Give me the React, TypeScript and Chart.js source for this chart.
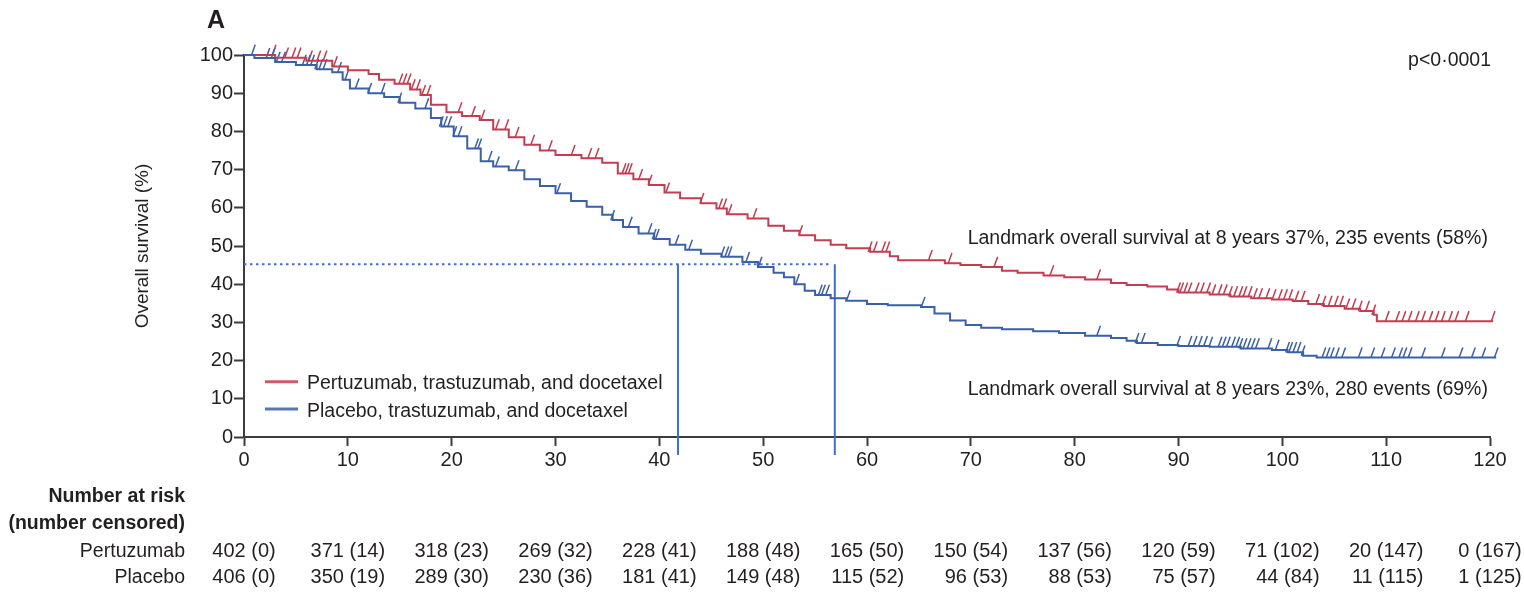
import React, { useEffect, useRef } from 'react';
import { Chart, registerables } from 'chart.js';

Chart.register(...registerables);

// ---------- data ----------
const xTicks = [0, 10, 20, 30, 40, 50, 60, 70, 80, 90, 100, 110, 120];
const yTicks = [0, 10, 20, 30, 40, 50, 60, 70, 80, 90, 100];

const seriesLabels = [
  'Pertuzumab, trastuzumab, and docetaxel',
  'Placebo, trastuzumab, and docetaxel',
];

// Kaplan-Meier step points (months, % surviving)
const pertuzumabTimes = [0, 3, 6, 8.5, 10, 12, 13, 14.5, 16, 17, 18, 19.5, 21, 22.7, 24, 25.5, 27, 28.5, 30, 32.5, 34.5, 36, 37.5, 39, 40.5, 42, 44, 45.5, 46.5, 48.5, 50.5, 52, 53.5, 55, 56.5, 58, 60.3, 62.2, 63, 67.5, 69, 71, 73, 74.5, 77, 79, 81, 83.5, 85, 87, 88.9, 90, 93, 95, 97, 99, 101, 102.5, 104, 106, 107.5, 108.8, 109.1, 120.3];
const pertuzumabSurv = [100, 99.3, 98.5, 97, 96, 95, 93.5, 92.5, 91, 89.5, 87, 85, 84, 83, 80.5, 78.5, 76.5, 75, 73.8, 73, 71.8, 69, 67.5, 66, 64, 62.5, 61.2, 59.8, 58.3, 57.2, 55.3, 54, 52.8, 51.5, 50.3, 49.4, 48.5, 47.3, 46.3, 45.5, 45, 44.5, 43.5, 43, 42.3, 41.8, 41.2, 40.3, 39.8, 39.4, 38.6, 37.8, 37.3, 36.8, 36.3, 36, 35.6, 34.8, 34.3, 33.6, 33, 32, 30.3, 30.3];

const placeboTimes = [0, 1, 3, 5, 7, 8.5, 9.5, 10.2, 12, 13.5, 15, 16.5, 18, 19, 20.2, 21.5, 22.8, 24, 25.5, 27, 28.5, 30, 31.5, 33, 34.5, 35.5, 36.5, 38, 39.5, 41, 42.5, 44, 46, 48, 49.5, 51, 52, 53, 54, 55, 56.5, 58, 60, 62, 65.2, 66.5, 68, 69.5, 71, 73, 76, 78.5, 81, 83.5, 85, 86, 88, 90, 93, 96, 99, 100.5, 102, 103.3, 120.6];
const placeboSurv = [100, 99.2, 98.2, 97.4, 96.3, 95.5, 93.5, 91.2, 90, 89, 87.5, 86, 83.5, 81.3, 78.7, 75.5, 72.2, 70.8, 69.8, 67.5, 65.7, 63.8, 61.8, 60.3, 58.2, 56.8, 55, 53.3, 51.8, 50.3, 49, 48, 47.2, 45.8, 44.5, 43, 41.8, 40, 38.3, 37.2, 36.3, 35.7, 34.8, 34.5, 34, 32.3, 30.5, 29.3, 28.6, 28.2, 27.7, 27.2, 26.5, 25.9, 25.2, 24.6, 24.1, 23.8, 23.6, 23.2, 22.8, 22.2, 21.3, 20.8, 20.8];

// censoring times (months)
const pertuzumabCensored = [2.9, 4.1, 4.8, 5.3, 6.4, 7.2, 7.8, 8.8, 15.1, 15.5, 15.9, 16.3, 16.8, 17.3, 17.8, 20.8, 22.1, 23, 24.4, 25.3, 26.3, 27.8, 29.5, 31.7, 33.3, 34, 36.6, 36.9, 37.2, 38.2, 39.1, 40.8, 44.1, 45.9, 46.3, 46.8, 49.2, 53.6, 60.3, 60.8, 61.6, 62, 66.1, 68, 72.4, 77.8, 82.3, 90, 90.3, 90.7, 91.1, 91.8, 92.3, 92.9, 93.4, 94, 94.5, 95, 95.5, 96, 96.4, 96.9, 97.4, 97.9, 98.6, 99.2, 99.8, 100.3, 100.8, 101.4, 102, 103.4, 104, 104.6, 105.2, 105.7, 106.3, 106.9, 107.5, 108.2, 108.8, 110.1, 111.1, 111.7, 112.3, 113, 113.6, 114.3, 114.9, 115.5, 116.2, 116.8, 117.8, 120.3];
const placeboCensored = [0.9, 2.3, 2.8, 3.3, 3.8, 5.8, 6.2, 6.6, 7.0, 7.4, 7.8, 9.2, 9.9, 10.9, 12.1, 13.4, 15, 17.6, 19, 19.4, 19.8, 20.3, 20.8, 22.4, 22.7, 23.7, 24.4, 26.3, 30.3, 35.5, 37.2, 39.1, 39.5, 39.8, 41.7, 43, 46.1, 46.5, 46.8, 48.5, 49.7, 53.3, 55.5, 55.8, 56.2, 58.2, 65.4, 82.3, 86, 86.6, 90, 91.1, 91.6, 92.1, 92.6, 93.1, 94, 94.4, 94.8, 95.3, 95.7, 96, 96.4, 96.8, 97.2, 97.6, 98.8, 99.5, 100.5, 100.8, 101.2, 101.6, 102, 104, 104.4, 104.8, 105.3, 105.9, 107.5, 108.7, 109.7, 110.7, 111.4, 111.8, 112.3, 113.6, 115.5, 117.2, 118.4, 119.4, 120.6];

// median reference lines
const medianTimes = [41.8, 56.9];
const medianLevel = 45.2;
const medianLineEnd = 56.6;
const medianLineBottom = -4.7;

const riskRowLabels = ['Pertuzumab', 'Placebo'];
const riskPertuzumab = ['402 (0)', '371 (14)', '318 (23)', '269 (32)', '228 (41)', '188 (48)', '165 (50)', '150 (54)', '137 (56)', '120 (59)', '71 (102)', '20 (147)', '0 (167)'];
const riskPlacebo = ['406 (0)', '350 (19)', '289 (30)', '230 (36)', '181 (41)', '149 (48)', '115 (52)', '96 (53)', '88 (53)', '75 (57)', '44 (84)', '11 (115)', '1 (125)'];

const landmarkTexts = [
  'Landmark overall survival at 8 years 37%, 235 events (58%)',
  'Landmark overall survival at 8 years 23%, 280 events (69%)',
];
const pValueText = 'p<0\u00B70001';
const panelLetter = 'A';

// ---------- styles ----------
const FONT = "'Liberation Sans', Arial, sans-serif";
const RED = '#c43c50';
const BLUE = '#3a60a8';
const REF_BLUE = '#3c6fd6';
const TEXT = '#231f20';
const AXIS = '#3c3c3c';

function survivalAt(times: number[], surv: number[], t: number) {
  let v = surv[0];
  for (let i = 0; i < times.length; i++) {
    if (times[i] <= t) v = surv[i];
  }
  return v;
}

const CENSOR_LIFT = 1.3;

const kmTextPlugin = {
  id: 'kmText',
  afterDraw(chart: any) {
    const { ctx } = chart;
    const xs = chart.scales.x;
    const ys = chart.scales.y;
    ctx.save();
    ctx.fillStyle = TEXT;
    ctx.textBaseline = 'alphabetic';

    ctx.font = `bold 25px ${FONT}`;
    ctx.textAlign = 'left';
    ctx.fillText(panelLetter, 207, 28);

    ctx.font = `19.5px ${FONT}`;
    ctx.textAlign = 'right';
    ctx.fillText(pValueText, xs.getPixelForValue(120.1), ys.getPixelForValue(97.0));
    ctx.fillText(landmarkTexts[0], xs.getPixelForValue(119.8), ys.getPixelForValue(50.4));
    ctx.fillText(landmarkTexts[1], xs.getPixelForValue(119.8), ys.getPixelForValue(11.0));

    // legend
    const legendColors = [RED, BLUE];
    const legendY = [381.7, 409];
    seriesLabels.forEach((lab, i) => {
      ctx.strokeStyle = legendColors[i];
      ctx.globalAlpha = 0.85;
      ctx.lineWidth = 3;
      ctx.beginPath();
      ctx.moveTo(265, legendY[i]);
      ctx.lineTo(298, legendY[i]);
      ctx.stroke();
      ctx.globalAlpha = 1;
      ctx.textAlign = 'left';
      ctx.fillText(lab, 307, legendY[i] + 7.5);
    });

    // number at risk table
    ctx.textAlign = 'right';
    ctx.font = `bold 19.5px ${FONT}`;
    ctx.fillText('Number at risk', 185, 502);
    ctx.fillText('(number censored)', 185, 529);
    ctx.font = `19.5px ${FONT}`;
    ctx.fillText(riskRowLabels[0], 185, 557);
    ctx.fillText(riskRowLabels[1], 185, 583);
    ctx.font = `20px ${FONT}`;
    xTicks.forEach((t, i) => {
      const px = xs.getPixelForValue(t);
      const w = Math.max(ctx.measureText(riskPertuzumab[i]).width, ctx.measureText(riskPlacebo[i]).width);
      ctx.fillText(riskPertuzumab[i], px + w / 2, 557);
      ctx.fillText(riskPlacebo[i], px + w / 2, 583);
    });
    ctx.restore();
  },
};

export default function App() {
  const canvasRef = useRef<HTMLCanvasElement | null>(null);

  useEffect(() => {
    if (!canvasRef.current) return;
    const toPts = (xs: number[], ys: number[]) => xs.map((x, i) => ({ x, y: ys[i] }));
    const censorPts = (cs: number[], times: number[], surv: number[]) =>
      cs.map((t) => ({ x: t, y: survivalAt(times, surv, t) + CENSOR_LIFT }));

    const censorStyle = {
      showLine: false,
      pointStyle: 'line',
      pointRadius: 5.5,
      pointHoverRadius: 5.5,
      pointRotation: 110,
      pointBorderWidth: 1.5,
      borderWidth: 0,
      clip: false,
    };

    const chart = new Chart(canvasRef.current, {
      type: 'line',
      data: {
        datasets: [
          {
            label: seriesLabels[1],
            data: toPts(placeboTimes, placeboSurv),
            borderColor: BLUE,
            borderWidth: 2,
            stepped: 'before',
            pointRadius: 0,
            fill: false,
            clip: false,
          },
          {
            label: seriesLabels[0],
            data: toPts(pertuzumabTimes, pertuzumabSurv),
            borderColor: RED,
            borderWidth: 2,
            stepped: 'before',
            pointRadius: 0,
            fill: false,
            clip: false,
          },
          {
            label: 'placebo censored',
            data: censorPts(placeboCensored, placeboTimes, placeboSurv),
            pointBorderColor: BLUE,
            borderColor: BLUE,
            ...censorStyle,
          } as any,
          {
            label: 'pertuzumab censored',
            data: censorPts(pertuzumabCensored, pertuzumabTimes, pertuzumabSurv),
            pointBorderColor: RED,
            borderColor: RED,
            ...censorStyle,
          } as any,
          {
            label: 'median level',
            data: [{ x: 0, y: medianLevel }, { x: medianLineEnd, y: medianLevel }],
            borderColor: REF_BLUE,
            borderWidth: 2,
            borderDash: [2.5, 3.5],
            pointRadius: 0,
            clip: false,
          },
          ...medianTimes.map((t) => ({
            label: 'median ' + t,
            data: [{ x: t, y: medianLevel }, { x: t, y: medianLineBottom }],
            borderColor: REF_BLUE,
            borderWidth: 2,
            pointRadius: 0,
            clip: false,
          })),
        ],
      },
      options: {
        animation: false,
        responsive: true,
        maintainAspectRatio: false,
        layout: { padding: { left: 127, top: 55, right: 34, bottom: 120 } },
        plugins: { legend: { display: false }, tooltip: { enabled: false } },
        scales: {
          x: {
            type: 'linear',
            min: 0,
            max: 120,
            afterBuildTicks: (s: any) => {
              s.ticks = xTicks.map((v) => ({ value: v }));
            },
            afterFit: (s: any) => {
              s.height = 40;
            },
            ticks: {
              autoSkip: false,
              maxRotation: 0,
              padding: 2,
              color: TEXT,
              font: { family: FONT, size: 20 },
            },
            grid: { drawOnChartArea: false, drawTicks: true, tickLength: 9, tickColor: AXIS, tickWidth: 2 },
            border: { color: AXIS, width: 2 },
          },
          y: {
            type: 'linear',
            min: 0,
            max: 100,
            afterBuildTicks: (s: any) => {
              s.ticks = yTicks.map((v) => ({ value: v }));
            },
            afterFit: (s: any) => {
              s.width = 117;
            },
            ticks: {
              autoSkip: false,
              padding: 1,
              color: TEXT,
              font: { family: FONT, size: 20 },
            },
            grid: { drawOnChartArea: false, drawTicks: true, tickLength: 10, tickColor: AXIS, tickWidth: 2 },
            border: { color: AXIS, width: 2 },
            title: {
              display: true,
              text: 'Overall survival (%)',
              color: TEXT,
              font: { family: FONT, size: 19 },
              padding: { top: 4, bottom: 4 },
            },
          },
        },
      } as any,
      plugins: [kmTextPlugin],
    });
    return () => chart.destroy();
  }, []);

  return (
    <div style={{ position: 'absolute', left: 0, top: 0, width: 1524, height: 597, background: '#fff' }}>
      <canvas ref={canvasRef} />
    </div>
  );
}
